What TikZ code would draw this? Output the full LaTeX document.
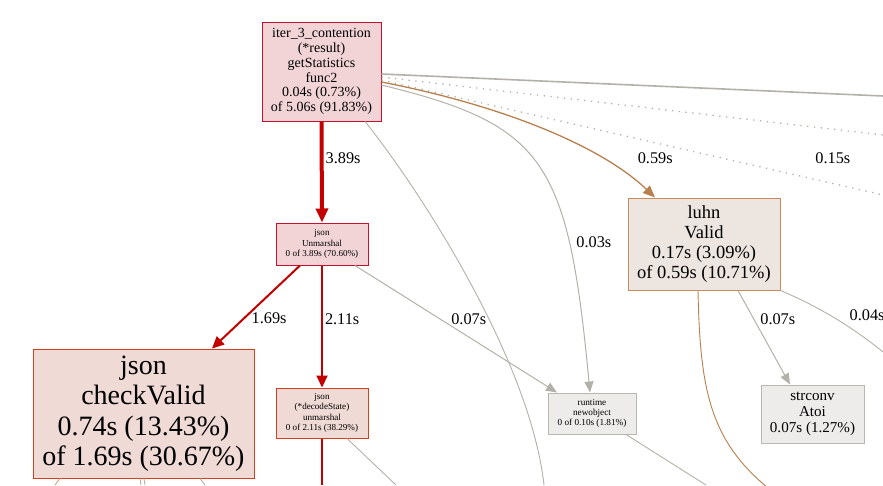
\documentclass[tikz,border=0pt]{standalone}
\usepackage{fontspec}
\setmainfont{Liberation Serif}
\usetikzlibrary{arrows.meta}
\definecolor{hotfill}{HTML}{F2D4D7}
\definecolor{hotdraw}{HTML}{C8102E}
\definecolor{warmfill}{HTML}{EFDAD5}
\definecolor{warmdraw}{HTML}{D0401E}
\definecolor{luhnfill}{HTML}{EDE5DF}
\definecolor{luhndraw}{HTML}{C88A5A}
\definecolor{coldfill}{HTML}{EDECEA}
\definecolor{colddraw}{HTML}{B8B8B0}
\definecolor{hotline}{HTML}{C20000}
\definecolor{brownline}{HTML}{B8804F}
\definecolor{grayline}{HTML}{B2B1A9}
\begin{document}
\begin{tikzpicture}
[x=1pt,y=-1pt,
  nodedecorate/.style={shape=rectangle,draw,line width=1pt,inner sep=0pt,align=center},%
  hotnode/.style={nodedecorate,fill=hotfill,draw=hotdraw},%
  warmnode/.style={nodedecorate,fill=warmfill,draw=warmdraw},%
  luhnnode/.style={nodedecorate,fill=luhnfill,draw=luhndraw},%
  coldnode/.style={nodedecorate,fill=coldfill,draw=colddraw},%
  edgelabel/.style={font=\fontsize{16.3}{18}\selectfont,inner sep=0pt},%
  redline/.style={draw=hotline,line width=2pt,-{Triangle[length=12pt,width=11pt]}},%
  grayarrow/.style={draw=grayline,line width=1pt,-{Triangle[length=11pt,width=9pt]}},%
  graystub/.style={draw=grayline,line width=0.9pt},%
  graydots/.style={draw=grayline,line width=1.3pt,dash pattern=on 1.3pt off 5.5pt}]
\useasboundingbox (0,0) rectangle (883,485);
%% nodes or vertices
\node (iter) at (321.5,71.5) [hotnode,minimum width=119pt,minimum height=99pt,
  font=\fontsize{14}{14.8}\selectfont]
  {iter\_3\_contention\\(*result)\\getStatistics\\func2\\0.04s (0.73\%)\\of 5.06s (91.83\%)};
\node (unm) at (322,244) [hotnode,minimum width=92pt,minimum height=42pt,
  font=\fontsize{9.1}{10.5}\selectfont]
  {json\\Unmarshal\\0 of 3.89s (70.60\%)};
\node (dec) at (322,413) [warmnode,minimum width=92pt,minimum height=50pt,
  font=\fontsize{9.1}{10.3}\selectfont]
  {json\\(*decodeState)\\unmarshal\\0 of 2.11s (38.29\%)};
\node (cv) at (143.5,413.5) [warmnode,minimum width=221pt,minimum height=129pt,
  font=\fontsize{28}{30.5}\selectfont]
  {json\\checkValid\\0.74s (13.43\%)\\of 1.69s (30.67\%)};
\node (luhn) at (704,244) [luhnnode,minimum width=152pt,minimum height=92pt,
  font=\fontsize{18.5}{20}\selectfont]
  {luhn\\Valid\\0.17s (3.09\%)\\of 0.59s (10.71\%)};
\node (nobj) at (592,413.5) [coldnode,minimum width=88pt,minimum height=41pt,
  font=\fontsize{9.2}{10.3}\selectfont]
  {runtime\\newobject\\0 of 0.10s (1.81\%)};
\node (atoi) at (812.5,414) [coldnode,minimum width=103pt,minimum height=58pt,
  font=\fontsize{15.1}{16}\selectfont]
  {strconv\\Atoi\\0.07s (1.27\%)};
%% loose ends at the border
\coordinate (outA) at (883,96);
\coordinate (outB) at (883,135);
\coordinate (outC) at (883,195);
\coordinate (outD) at (883,352);
\coordinate (outE) at (544,485);
\coordinate (outF) at (396,485);
\coordinate (outG) at (322,485);
\coordinate (outH) at (706,485);
\coordinate (outI) at (768,488);
\coordinate (outJ) at (55,485);
\coordinate (outK) at (141,485);
\coordinate (outL) at (145,485);
\coordinate (outM) at (205,485);
%% edges or lines
\draw[draw=hotline,line width=4pt,-{Triangle[length=14pt,width=12pt]}]
  (iter.south) -- node[edgelabel,pos=0.36,anchor=west,xshift=2pt] {3.89s} (unm.north);
\draw[redline] ([xshift=-22pt]unm.south) --
  node[edgelabel,pos=0.64,anchor=west,xshift=7pt] {1.69s} ([xshift=68.5pt]cv.north);
\draw[redline] (unm.south) --
  node[edgelabel,pos=0.44,anchor=west,xshift=2pt] {2.11s} (dec.north);
\draw[grayarrow] ([xshift=33pt]unm.south) --
  node[edgelabel,pos=0.42,anchor=west,xshift=11pt] {0.07s} ([xshift=-35pt]nobj.north);
\draw[grayarrow] ([yshift=-13.5pt]iter.east) .. controls (545,125) and (568,160) ..
  node[edgelabel,pos=0.727,anchor=west,xshift=7pt] {0.03s} ([xshift=-2pt]nobj.north);
\draw[draw=brownline,line width=1.3pt,-{Triangle[length=12pt,width=10pt]}]
  ([yshift=-10.5pt]iter.east) .. controls (500,105) and (600,145) ..
  node[edgelabel,pos=0.73,anchor=west,xshift=36pt] {0.59s} ([xshift=-49pt]luhn.north);
\draw[grayarrow] ([xshift=34pt]luhn.south) --
  node[edgelabel,pos=0.305,anchor=west,xshift=6pt] {0.07s} ([xshift=-22.5pt]atoi.north);
\draw[graystub] (luhn.south east) .. controls (815,305) and (850,325) ..
  node[edgelabel,pos=0.48,anchor=west,xshift=19pt] {0.04s} (outD);
\draw[draw=grayline,line width=1.6pt] ([yshift=-2.5pt]iter.east) -- (outA);
\draw[graydots] ([yshift=-5.5pt]iter.east) -- (outB);
\draw[graydots] ([yshift=-8.5pt]iter.east) --
  node[edgelabel,pos=0.9,yshift=25.5pt] {0.15s} (outC);
\draw[graystub] ([xshift=43.5pt]iter.south) .. controls (420,190) and (530,360) .. (outE);
\draw[graystub] ([xshift=25pt]dec.south) -- (outF);
\draw[draw=hotline,line width=2pt] (dec.south) -- (outG);
\draw[graystub] ([xshift=34pt]nobj.south) -- (outH);
\draw[draw=brownline,line width=0.9pt] ([xshift=-6pt]luhn.south) .. controls (700,390) and (710,440) .. (outI);
\draw[draw=brownline!70,line width=0.9pt] ([xshift=-83.5pt]cv.south) -- (outJ);
\draw[graystub] ([xshift=-3.5pt]cv.south) -- (outK);
\draw[graystub] ([xshift=0.5pt]cv.south) -- (outL);
\draw[graystub] ([xshift=56.5pt]cv.south) -- (outM);
\end{tikzpicture}
\end{document}
